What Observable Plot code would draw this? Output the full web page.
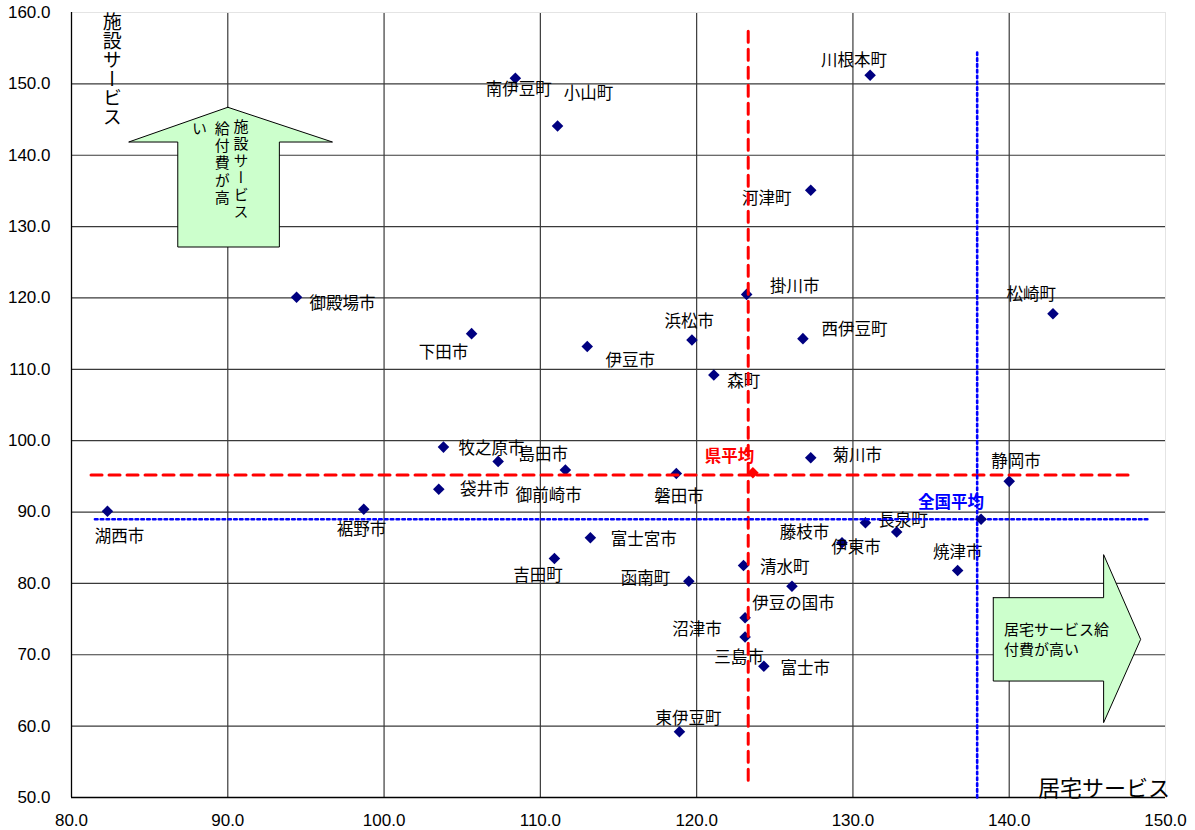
<!DOCTYPE html>
<html><head><meta charset="utf-8">
<script src="https://cdn.jsdelivr.net/npm/d3@7"></script>
<script src="https://cdn.jsdelivr.net/npm/@observablehq/plot@0.6"></script>
<style>
body{margin:0;background:#fff}
#chart{width:1195px;height:830px}
</style>
</head><body><div id="chart"></div>
<script>
// ---- data ----
const names = ["南伊豆町","小山町","川根本町","河津町","御殿場市","下田市","伊豆市","掛川市","浜松市","西伊豆町","松崎町","森町","牧之原市","島田市","御前崎市","袋井市","裾野市","湖西市","菊川市","磐田市","静岡市","長泉町","藤枝市","伊東市","焼津市","富士宮市","吉田町","函南町","清水町","伊豆の国市","沼津市","三島市","富士市","東伊豆町"];
const kyotaku = [108.4,111.1,131.1,127.3,94.4,105.6,113.0,123.2,119.7,126.8,142.8,121.1,103.8,107.3,111.6,103.5,98.7,82.3,127.3,118.7,140.0,132.8,130.8,129.3,136.7,113.2,110.9,119.5,123.0,126.1,123.1,123.1,124.3,118.9];
const shisetsu = [150.8,144.1,151.2,135.1,120.1,115.0,113.2,120.5,114.1,114.3,117.8,109.2,99.1,97.1,95.9,93.2,90.4,90.1,97.6,95.4,94.3,87.2,88.5,85.7,81.8,86.4,83.5,80.3,82.5,79.6,75.2,72.5,68.4,59.2];
// label offsets (px) relative to each point
const labelDx = [3.5,31,-16,-44,46,-28,43,48,-2.6,51.5,-21.7,30,48,45,-16.5,46,-2.3,12,46.4,2.6,6.7,6.3,-61,14,0,53.5,-16.3,-43.3,41.3,1.4,-48.2,-6.2,41.3,9];
const labelDy = [12,-32,-15,8.5,6,19,14,-8,-18.7,-9,-19,6.5,1.5,-6.5,26,0.4,21,25.5,-2,23,-20,-11.3,9.5,4.7,-18,1.7,17,-2.3,2,17.2,12.3,21,2.7,-12.7];

const avgNames = ["県平均","全国平均"];
const avgKyotaku = [123.6,138.2];
const avgShisetsu = [95.5,89.0];

// reference lines (averages)
const kenLine = {x:123.3, y:95.2, yFrom:52.4, yTo:157.6, xFrom:81.25, xTo:147.9};
const zenLine = {x:137.95, y:89.0, yFrom:50, yTo:154.8, xFrom:81.5, xTo:148.9};

const xTicks = [80,90,100,110,120,130,140,150];
const yTicks = [50,60,70,80,90,100,110,120,130,140,150,160];

// annotation arrows (data units)
const upArrowX = [90.0,96.7,93.3,93.3,86.8,86.8,83.66,90.0];
const upArrowY = [146.72,141.85,141.85,127.14,127.14,141.85,141.85,146.72];
const rightArrowX = [138.98,146.04,146.04,148.41,146.04,146.04,138.98,138.98];
const rightArrowY = [78.0,78.0,84.03,72.16,60.49,66.32,66.32,78.0];

const xTitle = "居宅サービス";
const yTitle = "施設サービス";
const upArrowText = ["施設サービス","給付費が高","い"];
const rightArrowText = ["居宅サービス給","付費が高い"];

// ---- build ----
const points = names.map((n,i)=>({name:n, x:kyotaku[i], y:shisetsu[i], dx:labelDx[i], dy:labelDy[i]}));
const avgs = avgNames.map((n,i)=>({name:n, x:avgKyotaku[i], y:avgShisetsu[i]}));
const upArrow = upArrowX.map((x,i)=>({x, y:upArrowY[i]}));
const rightArrow = rightArrowX.map((x,i)=>({x, y:rightArrowY[i]}));
const CJK = "'Noto Sans CJK JP', 'Noto Sans', sans-serif";

const labelMarks = points.map(p => Plot.text([p], {x:"x", y:"y", text:"name", dx:p.dx, dy:p.dy,
  fontSize:16.5, fontFamily:CJK, fill:"#000", textAnchor:"middle", lineAnchor:"middle"}));

const plot = Plot.plot({
  width:1195, height:830,
  marginLeft:71, marginRight:30, marginTop:12, marginBottom:33,
  style:{fontFamily:"'Liberation Sans', Arial, sans-serif", background:"#fff"},
  x:{domain:[80,150]},
  y:{domain:[50,160]},
  marks:[
    Plot.ruleX(xTicks.filter(d=>d>80 && d<150), {stroke:"#3a3a3a", strokeWidth:1.2}),
    Plot.ruleY(yTicks.filter(d=>d>50 && d<160), {stroke:"#3a3a3a", strokeWidth:1.2}),
    Plot.ruleX([150], {stroke:"#e4e4e4"}),
    Plot.ruleY([160], {stroke:"#e4e4e4"}),
    Plot.ruleX([80], {stroke:"#000", strokeWidth:1.3}),
    Plot.ruleY([50], {stroke:"#000", strokeWidth:1.3}),
    Plot.axisX(xTicks, {tickFormat:d=>d.toFixed(1), tickSize:0, tickPadding:16, fontSize:17, label:null, fill:"#000"}),
    Plot.axisY(yTicks, {tickFormat:d=>d.toFixed(1), tickSize:0, tickPadding:21, fontSize:17, label:null, fill:"#000"}),
    Plot.line(upArrow, {x:"x", y:"y", fill:"#ccffcc", stroke:"#000", strokeWidth:1, curve:"linear"}),
    Plot.line(rightArrow, {x:"x", y:"y", fill:"#ccffcc", stroke:"#000", strokeWidth:1, curve:"linear"}),
    Plot.dot(points, {x:"x", y:"y", symbol:"diamond2", r:5.2, fill:"#000080", stroke:"none"}),
    ...labelMarks,
    Plot.line([[kenLine.x, kenLine.yFrom],[kenLine.x, kenLine.yTo]], {stroke:"red", strokeWidth:3, strokeDasharray:"11,7"}),
    Plot.line([[kenLine.xFrom, kenLine.y],[kenLine.xTo, kenLine.y]], {stroke:"red", strokeWidth:3, strokeDasharray:"11,7"}),
    Plot.line([[zenLine.x, zenLine.yFrom],[zenLine.x, zenLine.yTo]], {stroke:"#0000ff", strokeWidth:2.6, strokeDasharray:"2.6,3.2"}),
    Plot.line([[zenLine.xFrom, zenLine.y],[zenLine.xTo, zenLine.y]], {stroke:"#0000ff", strokeWidth:2.6, strokeDasharray:"2.6,3.2"}),
    Plot.dot([avgs[0]], {x:"x", y:"y", symbol:"diamond2", r:5.2, fill:"red", stroke:"none"}),
    Plot.dot([avgs[1]], {x:"x", y:"y", symbol:"diamond2", r:5.2, fill:"#000080", stroke:"none"}),
    Plot.text([avgs[0]], {x:"x", y:"y", text:"name", dx:-23.4, dy:-16.3, fontSize:16.5, fontWeight:"bold", fontFamily:CJK, fill:"red"}),
    Plot.text([avgs[1]], {x:"x", y:"y", text:"name", dx:-30, dy:-16.6, fontSize:16.5, fontWeight:"bold", fontFamily:CJK, fill:"#0000ff"}),
    Plot.text([{x:146.06, y:51.14}], {x:"x", y:"y", text:()=>xTitle, fontSize:22, fontFamily:CJK, fill:"#000"}),
    Plot.text([{x:139.66, y:73.42, t:rightArrowText[0]},{x:139.66, y:70.62, t:rightArrowText[1]}], {x:"x", y:"y", text:"t", textAnchor:"start", fontSize:15, fontFamily:CJK, fill:"#000"})
  ]
});

// vertical texts (axis title and text inside the up arrow)
const sx = plot.scale("x"), sy = plot.scale("y");
const px = v => sx.apply ? sx.apply(v) : 71 + (v-80)/(70)*(1165-71);
const py = v => sy.apply ? sy.apply(v) : 797 - (v-50)/(110)*(797-12);
const svg = d3.select(plot);
const vtexts = [
  {x:82.64, y:159.9, t:yTitle, size:19, ls:0},
  {x:90.88, y:145.03, t:upArrowText[0], size:15, ls:2},
  {x:89.67, y:144.75, t:upArrowText[1], size:15, ls:2.2},
  {x:88.22, y:144.75, t:upArrowText[2], size:15, ls:0}
];
const g = svg.append("g");
vtexts.forEach(v => {
  g.append("text")
    .attr("x", px(v.x)).attr("y", py(v.y))
    .attr("font-family", CJK).attr("font-size", v.size)
    .attr("letter-spacing", v.ls)
    .attr("fill", "#000")
    .attr("text-anchor", "start")
    .style("writing-mode", "vertical-rl")
    .text(v.t);
});

document.getElementById("chart").appendChild(plot);
</script>
</body></html>
